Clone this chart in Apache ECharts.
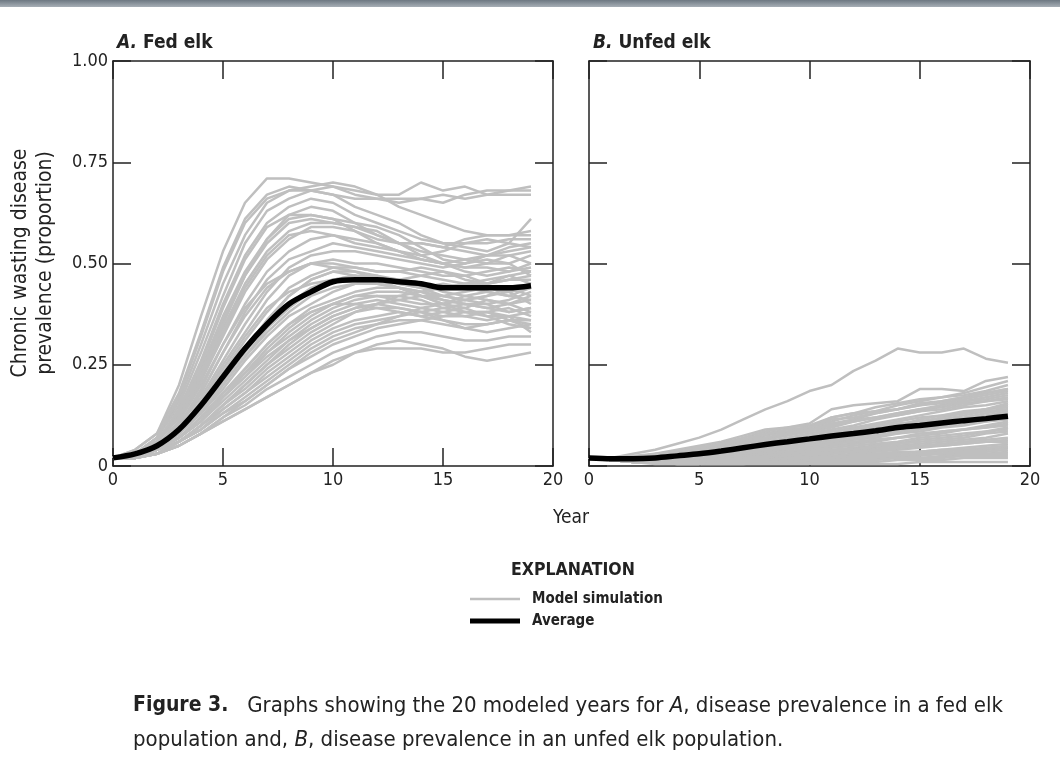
<!DOCTYPE html>
<html>
<head>
<meta charset="utf-8">
<script src="https://cdn.jsdelivr.net/npm/echarts@6/dist/echarts.min.js"></script>
<style>
  html, body { margin: 0; padding: 0; background: #fff; }
  #chart { width: 1060px; height: 768px; }
</style>
</head>
<body>
<div id="chart"></div>
<script>
const FONT = "'Liberation Sans Narrow', 'DejaVu Sans Condensed', 'Roboto', sans-serif";

const years = [0,1,2,3,4,5,6,7,8,9,10,11,12,13,14,15,16,17,18,19];
const xTicks = [0, 5, 10, 15, 20];
const yTicks = [0, 0.25, 0.5, 0.75, 1];

// panel A: fed elk, model simulations
const simA = [
  [0.02,0.04,0.08,0.20,0.37,0.53,0.65,0.71,0.71,0.70,0.69,0.68,0.67,0.67,0.70,0.68,0.69,0.67,0.68,0.68],
  [0.02,0.04,0.08,0.18,0.33,0.49,0.61,0.67,0.69,0.68,0.69,0.67,0.66,0.66,0.66,0.67,0.66,0.67,0.67,0.67],
  [0.02,0.03,0.07,0.16,0.30,0.45,0.57,0.65,0.68,0.69,0.70,0.69,0.67,0.64,0.62,0.60,0.58,0.57,0.57,0.58],
  [0.02,0.03,0.07,0.15,0.28,0.42,0.55,0.63,0.66,0.68,0.67,0.64,0.62,0.60,0.57,0.55,0.55,0.55,0.56,0.56],
  [0.02,0.03,0.06,0.14,0.26,0.40,0.52,0.60,0.64,0.66,0.65,0.62,0.60,0.58,0.56,0.55,0.54,0.53,0.55,0.61],
  [0.02,0.03,0.06,0.13,0.24,0.37,0.48,0.56,0.61,0.62,0.61,0.60,0.59,0.57,0.54,0.51,0.50,0.52,0.54,0.55],
  [0.02,0.03,0.06,0.12,0.22,0.34,0.45,0.53,0.58,0.60,0.60,0.59,0.58,0.55,0.53,0.52,0.51,0.50,0.50,0.52],
  [0.02,0.03,0.06,0.12,0.21,0.32,0.43,0.51,0.56,0.59,0.59,0.58,0.56,0.55,0.55,0.54,0.53,0.52,0.53,0.54],
  [0.02,0.03,0.05,0.11,0.20,0.30,0.40,0.48,0.53,0.56,0.57,0.56,0.55,0.53,0.51,0.50,0.51,0.52,0.52,0.50],
  [0.02,0.03,0.05,0.10,0.18,0.28,0.38,0.46,0.51,0.53,0.55,0.54,0.53,0.52,0.51,0.50,0.49,0.49,0.48,0.49],
  [0.02,0.03,0.05,0.10,0.17,0.26,0.35,0.43,0.49,0.52,0.53,0.53,0.52,0.51,0.50,0.49,0.50,0.51,0.50,0.47],
  [0.02,0.03,0.05,0.09,0.16,0.25,0.33,0.41,0.47,0.50,0.51,0.50,0.50,0.49,0.48,0.47,0.47,0.45,0.46,0.47],
  [0.02,0.03,0.05,0.09,0.15,0.23,0.31,0.38,0.44,0.47,0.49,0.49,0.48,0.48,0.47,0.46,0.45,0.46,0.47,0.45],
  [0.02,0.03,0.05,0.09,0.14,0.22,0.29,0.36,0.42,0.46,0.48,0.48,0.47,0.45,0.44,0.44,0.45,0.44,0.43,0.44],
  [0.02,0.03,0.04,0.08,0.14,0.21,0.28,0.35,0.40,0.44,0.46,0.47,0.47,0.46,0.44,0.42,0.41,0.42,0.44,0.42],
  [0.02,0.03,0.04,0.08,0.13,0.20,0.27,0.33,0.38,0.42,0.44,0.45,0.46,0.46,0.45,0.43,0.42,0.41,0.40,0.41],
  [0.02,0.03,0.04,0.08,0.13,0.19,0.26,0.32,0.37,0.40,0.43,0.45,0.45,0.44,0.43,0.42,0.43,0.44,0.43,0.40],
  [0.02,0.03,0.04,0.07,0.12,0.18,0.24,0.30,0.35,0.39,0.41,0.43,0.44,0.44,0.43,0.41,0.40,0.39,0.40,0.42],
  [0.02,0.02,0.04,0.07,0.12,0.18,0.23,0.29,0.34,0.38,0.40,0.42,0.42,0.41,0.40,0.40,0.41,0.40,0.38,0.39],
  [0.02,0.02,0.04,0.07,0.11,0.17,0.22,0.28,0.32,0.36,0.39,0.41,0.42,0.42,0.41,0.39,0.38,0.38,0.39,0.37],
  [0.02,0.02,0.04,0.07,0.11,0.16,0.21,0.26,0.31,0.35,0.38,0.40,0.41,0.40,0.39,0.38,0.37,0.36,0.37,0.38],
  [0.02,0.02,0.04,0.06,0.10,0.15,0.20,0.25,0.30,0.34,0.37,0.39,0.40,0.39,0.38,0.37,0.37,0.38,0.36,0.35],
  [0.02,0.02,0.04,0.06,0.10,0.15,0.19,0.24,0.28,0.32,0.35,0.38,0.39,0.39,0.38,0.36,0.35,0.35,0.36,0.36],
  [0.02,0.02,0.03,0.06,0.10,0.14,0.18,0.23,0.27,0.31,0.34,0.36,0.37,0.38,0.37,0.36,0.34,0.33,0.34,0.35],
  [0.02,0.02,0.03,0.06,0.09,0.13,0.17,0.21,0.25,0.29,0.32,0.34,0.35,0.36,0.36,0.35,0.34,0.35,0.36,0.34],
  [0.02,0.02,0.03,0.06,0.09,0.13,0.16,0.20,0.24,0.27,0.30,0.32,0.34,0.35,0.36,0.37,0.38,0.38,0.37,0.33],
  [0.02,0.02,0.03,0.05,0.08,0.12,0.15,0.19,0.22,0.25,0.28,0.30,0.32,0.33,0.33,0.32,0.31,0.31,0.32,0.32],
  [0.02,0.02,0.03,0.05,0.08,0.11,0.14,0.17,0.20,0.23,0.26,0.28,0.29,0.29,0.29,0.28,0.28,0.29,0.30,0.30],
  [0.02,0.02,0.03,0.05,0.08,0.11,0.14,0.17,0.20,0.23,0.25,0.28,0.30,0.31,0.30,0.29,0.27,0.26,0.27,0.28],
  [0.02,0.03,0.05,0.11,0.21,0.33,0.44,0.52,0.57,0.58,0.57,0.55,0.54,0.53,0.51,0.50,0.48,0.47,0.48,0.50],
  [0.02,0.03,0.05,0.10,0.19,0.30,0.39,0.45,0.48,0.50,0.50,0.49,0.48,0.48,0.49,0.48,0.47,0.48,0.49,0.48],
  [0.02,0.03,0.06,0.13,0.23,0.36,0.47,0.55,0.60,0.61,0.60,0.59,0.57,0.55,0.55,0.54,0.56,0.57,0.57,0.57],
  [0.02,0.03,0.04,0.08,0.14,0.21,0.29,0.36,0.42,0.46,0.48,0.47,0.45,0.44,0.42,0.41,0.40,0.40,0.41,0.43],
  [0.02,0.02,0.04,0.07,0.12,0.17,0.22,0.27,0.31,0.34,0.37,0.39,0.40,0.42,0.43,0.44,0.45,0.45,0.46,0.46],
  [0.02,0.03,0.07,0.17,0.32,0.48,0.60,0.66,0.68,0.68,0.67,0.66,0.66,0.65,0.66,0.65,0.67,0.68,0.68,0.69],
  [0.02,0.03,0.05,0.09,0.16,0.24,0.32,0.39,0.43,0.45,0.46,0.46,0.45,0.46,0.47,0.48,0.46,0.45,0.47,0.48],
  [0.02,0.02,0.04,0.07,0.12,0.18,0.24,0.30,0.35,0.38,0.40,0.40,0.39,0.38,0.37,0.38,0.39,0.41,0.40,0.38],
  [0.02,0.03,0.04,0.08,0.13,0.20,0.27,0.34,0.39,0.43,0.46,0.47,0.46,0.44,0.42,0.40,0.39,0.37,0.37,0.36],
  [0.02,0.02,0.04,0.06,0.10,0.15,0.20,0.25,0.29,0.33,0.36,0.38,0.40,0.41,0.42,0.42,0.41,0.42,0.43,0.44],
  [0.02,0.03,0.06,0.12,0.22,0.35,0.47,0.56,0.62,0.64,0.63,0.60,0.57,0.55,0.52,0.50,0.49,0.50,0.52,0.53],
  [0.02,0.02,0.03,0.06,0.09,0.14,0.18,0.22,0.26,0.30,0.33,0.35,0.36,0.37,0.38,0.39,0.40,0.39,0.38,0.39],
  [0.02,0.03,0.05,0.10,0.18,0.28,0.37,0.44,0.48,0.50,0.49,0.48,0.46,0.45,0.44,0.45,0.44,0.43,0.42,0.44],
  [0.02,0.02,0.04,0.07,0.11,0.17,0.23,0.28,0.33,0.37,0.40,0.42,0.43,0.43,0.42,0.40,0.38,0.37,0.35,0.34],
  [0.02,0.03,0.06,0.14,0.25,0.39,0.51,0.59,0.62,0.62,0.61,0.58,0.55,0.53,0.52,0.53,0.55,0.56,0.55,0.54],
  [0.02,0.02,0.03,0.05,0.08,0.12,0.16,0.20,0.24,0.28,0.31,0.33,0.35,0.37,0.39,0.40,0.42,0.43,0.42,0.41]
];
const avgA = [0.02,0.03,0.05,0.09,0.15,0.22,0.29,0.35,0.40,0.43,0.455,0.46,0.46,0.455,0.45,0.44,0.44,0.44,0.44,0.445];

// panel B: unfed elk, model simulations
const simB = [
  [0.02,0.02,0.03,0.04,0.055,0.07,0.09,0.115,0.14,0.16,0.185,0.20,0.235,0.26,0.29,0.28,0.28,0.29,0.265,0.255],
  [0.02,0.02,0.025,0.03,0.04,0.05,0.06,0.075,0.09,0.095,0.105,0.14,0.15,0.155,0.16,0.19,0.19,0.185,0.21,0.22],
  [0.02,0.02,0.02,0.03,0.035,0.045,0.055,0.07,0.085,0.095,0.10,0.12,0.13,0.145,0.155,0.165,0.17,0.18,0.195,0.21],
  [0.02,0.02,0.02,0.025,0.03,0.04,0.05,0.06,0.075,0.085,0.095,0.11,0.125,0.135,0.15,0.16,0.17,0.175,0.185,0.20],
  [0.02,0.02,0.02,0.025,0.03,0.035,0.045,0.055,0.065,0.08,0.09,0.10,0.115,0.13,0.14,0.155,0.16,0.17,0.18,0.19],
  [0.02,0.02,0.02,0.02,0.025,0.03,0.04,0.05,0.06,0.07,0.08,0.09,0.10,0.115,0.125,0.135,0.15,0.16,0.17,0.18],
  [0.02,0.02,0.02,0.025,0.03,0.04,0.05,0.06,0.07,0.08,0.09,0.105,0.115,0.12,0.13,0.14,0.145,0.155,0.16,0.17],
  [0.02,0.02,0.02,0.02,0.025,0.03,0.035,0.045,0.055,0.065,0.075,0.085,0.095,0.105,0.115,0.125,0.135,0.145,0.15,0.16],
  [0.02,0.02,0.02,0.02,0.025,0.03,0.035,0.04,0.05,0.06,0.07,0.08,0.09,0.10,0.11,0.12,0.125,0.135,0.14,0.15],
  [0.02,0.02,0.015,0.02,0.02,0.025,0.03,0.04,0.045,0.055,0.065,0.07,0.08,0.09,0.10,0.11,0.115,0.125,0.135,0.14],
  [0.02,0.015,0.015,0.02,0.02,0.025,0.03,0.035,0.04,0.05,0.055,0.065,0.07,0.08,0.09,0.10,0.105,0.115,0.12,0.13],
  [0.02,0.015,0.015,0.015,0.02,0.02,0.025,0.03,0.035,0.04,0.05,0.055,0.065,0.07,0.08,0.085,0.095,0.10,0.11,0.115],
  [0.02,0.015,0.015,0.015,0.015,0.02,0.025,0.03,0.03,0.035,0.04,0.05,0.055,0.06,0.07,0.075,0.08,0.09,0.095,0.105],
  [0.02,0.015,0.015,0.015,0.015,0.02,0.02,0.025,0.03,0.03,0.035,0.04,0.045,0.05,0.055,0.065,0.07,0.075,0.085,0.09],
  [0.02,0.015,0.015,0.01,0.015,0.015,0.02,0.02,0.025,0.03,0.03,0.035,0.04,0.045,0.05,0.055,0.06,0.065,0.07,0.08],
  [0.02,0.015,0.01,0.01,0.01,0.015,0.015,0.02,0.02,0.025,0.025,0.03,0.035,0.035,0.04,0.045,0.05,0.055,0.06,0.065],
  [0.02,0.015,0.01,0.01,0.01,0.01,0.015,0.015,0.02,0.02,0.025,0.025,0.03,0.03,0.035,0.035,0.04,0.045,0.05,0.055],
  [0.02,0.015,0.01,0.01,0.01,0.01,0.01,0.015,0.015,0.015,0.02,0.02,0.02,0.025,0.025,0.03,0.03,0.035,0.04,0.045],
  [0.02,0.015,0.01,0.01,0.01,0.01,0.01,0.01,0.01,0.015,0.015,0.015,0.015,0.02,0.02,0.02,0.025,0.025,0.03,0.035],
  [0.02,0.015,0.01,0.01,0.005,0.005,0.005,0.005,0.01,0.01,0.01,0.01,0.01,0.01,0.015,0.015,0.015,0.02,0.02,0.02],
  [0.02,0.015,0.01,0.005,0.005,0.005,0.005,0.005,0.005,0.005,0.005,0.005,0.005,0.005,0.005,0.01,0.01,0.01,0.01,0.01],
  [0.02,0.02,0.02,0.025,0.03,0.04,0.05,0.065,0.08,0.09,0.095,0.12,0.13,0.135,0.14,0.15,0.16,0.17,0.18,0.19],
  [0.02,0.02,0.02,0.02,0.025,0.03,0.04,0.05,0.055,0.065,0.075,0.085,0.09,0.10,0.105,0.11,0.12,0.13,0.14,0.145],
  [0.02,0.015,0.015,0.015,0.02,0.02,0.025,0.03,0.04,0.045,0.05,0.06,0.065,0.075,0.08,0.09,0.10,0.105,0.11,0.12],
  [0.02,0.015,0.015,0.015,0.015,0.02,0.02,0.025,0.03,0.035,0.04,0.045,0.05,0.055,0.06,0.07,0.075,0.08,0.085,0.095],
  [0.02,0.015,0.015,0.01,0.015,0.015,0.015,0.02,0.025,0.025,0.03,0.035,0.04,0.04,0.045,0.05,0.055,0.06,0.065,0.07],
  [0.02,0.015,0.01,0.01,0.01,0.015,0.015,0.015,0.02,0.02,0.02,0.025,0.025,0.03,0.03,0.035,0.035,0.04,0.04,0.045],
  [0.02,0.02,0.02,0.02,0.025,0.035,0.045,0.055,0.065,0.075,0.085,0.095,0.11,0.12,0.13,0.14,0.15,0.16,0.165,0.175],
  [0.02,0.015,0.015,0.015,0.02,0.025,0.03,0.035,0.045,0.05,0.06,0.065,0.075,0.085,0.09,0.10,0.11,0.115,0.125,0.135],
  [0.02,0.015,0.01,0.01,0.01,0.01,0.01,0.01,0.015,0.015,0.015,0.02,0.02,0.02,0.025,0.025,0.03,0.03,0.03,0.03],
  [0.02,0.02,0.02,0.025,0.035,0.045,0.055,0.065,0.08,0.085,0.095,0.115,0.12,0.13,0.14,0.15,0.155,0.165,0.175,0.185],
  [0.02,0.015,0.015,0.02,0.02,0.025,0.035,0.04,0.05,0.055,0.065,0.075,0.085,0.09,0.10,0.115,0.125,0.13,0.14,0.155],
  [0.02,0.015,0.015,0.015,0.02,0.02,0.025,0.03,0.035,0.045,0.05,0.06,0.07,0.075,0.085,0.095,0.10,0.11,0.12,0.125],
  [0.02,0.015,0.015,0.015,0.015,0.02,0.02,0.025,0.03,0.035,0.045,0.05,0.055,0.065,0.07,0.08,0.085,0.09,0.10,0.11],
  [0.02,0.015,0.01,0.01,0.01,0.015,0.02,0.02,0.025,0.03,0.035,0.04,0.04,0.05,0.055,0.06,0.065,0.07,0.08,0.085],
  [0.02,0.015,0.01,0.01,0.01,0.015,0.015,0.02,0.02,0.025,0.03,0.03,0.035,0.04,0.045,0.05,0.05,0.055,0.06,0.06],
  [0.02,0.015,0.01,0.01,0.01,0.01,0.01,0.015,0.015,0.02,0.02,0.025,0.025,0.03,0.03,0.035,0.04,0.04,0.045,0.05],
  [0.02,0.02,0.02,0.02,0.03,0.04,0.045,0.055,0.07,0.08,0.09,0.10,0.11,0.12,0.125,0.135,0.14,0.15,0.16,0.165],
  [0.02,0.02,0.02,0.02,0.025,0.03,0.04,0.045,0.055,0.06,0.07,0.075,0.085,0.095,0.10,0.105,0.115,0.12,0.13,0.14],
  [0.02,0.015,0.015,0.015,0.02,0.02,0.025,0.035,0.04,0.045,0.05,0.055,0.06,0.065,0.07,0.075,0.085,0.09,0.095,0.10],
  [0.02,0.015,0.015,0.01,0.01,0.01,0.015,0.015,0.015,0.02,0.02,0.02,0.025,0.025,0.025,0.03,0.03,0.035,0.035,0.04],
  [0.02,0.015,0.01,0.01,0.005,0.005,0.01,0.01,0.01,0.01,0.015,0.015,0.015,0.015,0.02,0.02,0.02,0.025,0.025,0.025]
];
const avgB = [0.02,0.018,0.018,0.02,0.025,0.03,0.037,0.045,0.053,0.06,0.067,0.074,0.08,0.087,0.095,0.10,0.106,0.112,0.117,0.123];

const chart = echarts.init(document.getElementById('chart'), null, { renderer: 'canvas' });

const axisLine = { show: true, onZero: false, lineStyle: { color: '#222', width: 1.5 } };
const tickIn = len => ({ show: true, inside: true, length: len, lineStyle: { color: '#222', width: 1.5 } });
const lbl = { fontFamily: FONT, fontSize: 18, color: '#222' };

function xAxes(gi) {
  return [
    { gridIndex: gi, type: 'value', min: xTicks[0], max: xTicks[xTicks.length - 1], interval: 5, position: 'bottom',
      axisLine, axisTick: tickIn(18), splitLine: { show: false },
      axisLabel: Object.assign({ margin: 5 }, lbl) },
    { gridIndex: gi, type: 'value', min: 0, max: 20, interval: 5, position: 'top',
      axisLine, axisTick: tickIn(18), splitLine: { show: false }, axisLabel: { show: false } }
  ];
}
function yAxes(gi, labels) {
  return [
    { gridIndex: gi, type: 'value', min: yTicks[0], max: yTicks[yTicks.length - 1], interval: 0.25, position: 'left',
      axisLine, axisTick: tickIn(18), splitLine: { show: false },
      axisLabel: Object.assign({ show: labels, margin: 5,
        formatter: v => v === 0 ? '0' : v.toFixed(2) }, lbl) },
    { gridIndex: gi, type: 'value', min: 0, max: 1, interval: 0.25, position: 'right',
      axisLine, axisTick: tickIn(18), splitLine: { show: false }, axisLabel: { show: false } }
  ];
}

const series = [];
function addPanel(sims, avg, xi, yi) {
  sims.forEach(s => series.push({
    type: 'line', name: 'Model simulation', xAxisIndex: xi, yAxisIndex: yi,
    data: years.map((y, i) => [y, s[i]]), showSymbol: false, silent: true,
    lineStyle: { color: '#bfbfbf', width: 2.5 }, z: 2
  }));
  series.push({
    type: 'line', name: 'Average', xAxisIndex: xi, yAxisIndex: yi,
    data: years.map((y, i) => [y, avg[i]]), showSymbol: false, smooth: 0.3, silent: true,
    lineStyle: { color: '#000', width: 5.5 }, z: 3
  });
}
addPanel(simA, avgA, 0, 0);
addPanel(simB, avgB, 2, 2);

const txt = (x, y, text, extra) => ({ type: 'text', x, y,
  style: Object.assign({ text, fontFamily: FONT, fill: '#222' }, extra) });
const italicBold = { fontStyle: 'italic', fontWeight: 'bold', fontSize: 19, fontFamily: FONT, fill: '#222' };

chart.setOption({
  animation: false,
  backgroundColor: '#fff',
  grid: [
    { left: 113, right: 507, top: 61, height: 405 },
    { left: 589, right: 30, top: 61, height: 405 }
  ],
  xAxis: [...xAxes(0), ...xAxes(1)],
  yAxis: [...yAxes(0, true), ...yAxes(1, false)],
  series,
  graphic: [
    { type: 'rect', shape: { x: 0, y: 0, width: 1060, height: 7 },
      style: { fill: new echarts.graphic.LinearGradient(0, 0, 0, 1, [
        { offset: 0, color: '#6d7882' }, { offset: 1, color: '#a7afb6' }]) } },
    txt(117, 43, '{i|A.} Fed elk', { fontSize: 19, fontWeight: 'bold', verticalAlign: 'middle', rich: { i: italicBold } }),
    txt(593, 43, '{i|B.} Unfed elk', { fontSize: 19, fontWeight: 'bold', verticalAlign: 'middle', rich: { i: italicBold } }),
    { type: 'text', x: 33, y: 263, rotation: Math.PI / 2,
      style: { text: 'Chronic wasting disease\nprevalence (proportion)', fontFamily: FONT, fontSize: 21,
        fill: '#222', align: 'center', verticalAlign: 'middle', lineHeight: 25 } },
    txt(571, 518, 'Year', { fontSize: 19, align: 'center', verticalAlign: 'middle' }),
    txt(573, 570, 'EXPLANATION', { fontSize: 17.5, fontWeight: 'bold', align: 'center', verticalAlign: 'middle' }),
    { type: 'line', shape: { x1: 470, y1: 599, x2: 520, y2: 599 }, style: { stroke: '#bfbfbf', lineWidth: 2.5 } },
    { type: 'line', shape: { x1: 470, y1: 621, x2: 520, y2: 621 }, style: { stroke: '#000', lineWidth: 5 } },
    txt(532, 599, 'Model simulation', { fontSize: 15, fontWeight: 'bold', verticalAlign: 'middle' }),
    txt(532, 621, 'Average', { fontSize: 15, fontWeight: 'bold', verticalAlign: 'middle' }),
    txt(133, 706, '{b|Figure 3.}   Graphs showing the 20 modeled years for {i|A}, disease prevalence in a fed elk',
      { fontSize: 22, verticalAlign: 'middle',
        rich: { b: { fontWeight: 'bold', fontSize: 21, fontFamily: FONT, fill: '#222' },
                i: { fontStyle: 'italic', fontSize: 22, fontFamily: FONT, fill: '#222' } } }),
    txt(133, 740, 'population and, {i|B}, disease prevalence in an unfed elk population.',
      { fontSize: 22, verticalAlign: 'middle',
        rich: { i: { fontStyle: 'italic', fontSize: 22, fontFamily: FONT, fill: '#222' } } })
  ]
});
</script>
</body>
</html>
